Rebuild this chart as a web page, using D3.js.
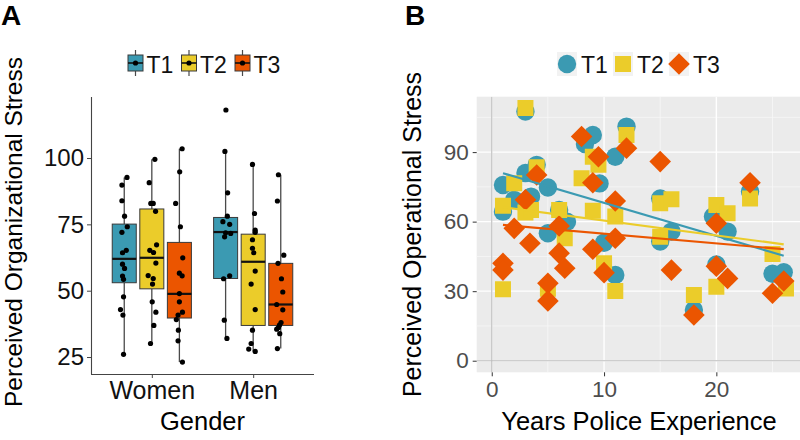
<!DOCTYPE html>
<html><head><meta charset="utf-8">
<script src="https://cdn.jsdelivr.net/npm/d3@7"></script>
<style>body{margin:0;background:#fff}svg{display:block}text{font-family:"Liberation Sans",Arial,sans-serif}</style>
</head><body>
<svg id="c" width="800" height="440"></svg>
<script>
// ---------- DATA ----------
const genders = ["Women", "Men"];
const times = ["T1", "T2", "T3"];
const timeColors = ["#3B9AB2", "#EBCC2A", "#EB5500"];

// Panel A box stats: [lower whisker, Q1, median, Q3, upper whisker]
const boxWomenT1 = [26.0, 53.0, 62.0, 75.1, 92.7];
const boxWomenT2 = [30.1, 50.7, 62.4, 80.8, 99.5];
const boxWomenT3 = [23.1, 39.7, 48.8, 68.2, 103.5];
const boxMenT1 = [32.0, 54.6, 72.1, 77.6, 102.5];
const boxMenT2 = [27.1, 36.9, 60.9, 71.3, 97.6];
const boxMenT3 = [28.2, 36.9, 44.8, 60.3, 93.7];

// Panel A individual scores and their jitter (category units)
const ptsWomenT1 = [92.7, 89.8, 83.9, 78.1, 74.1, 72.0, 65.2, 64.3, 60.0, 58.4, 55.5, 54.3, 47.7, 42.9, 40.8, 26.0];
const jitWomenT1 = [0.027, -0.023, -0.023, 0.003, 0.030, -0.023, 0.020, -0.017, -0.017, 0.003, -0.017, -0.007, -0.007, -0.037, -0.013, -0.007];
const ptsWomenT2 = [99.5, 90.7, 82.9, 82.9, 79.9, 67.3, 65.2, 64.4, 60.4, 55.7, 54.6, 52.5, 45.8, 41.9, 36.9, 30.1];
const jitWomenT2 = [0.030, -0.026, -0.010, 0.014, 0.037, 0.047, -0.020, 0.017, 0.040, -0.036, 0.014, 0.007, 0.004, 0.040, 0.020, -0.013];
const ptsWomenT3 = [103.5, 94.8, 82.9, 74.1, 62.4, 56.6, 55.6, 48.9, 45.8, 41.9, 40.8, 39.1, 35.1, 31.1, 23.1];
const jitWomenT3 = [0.027, 0.003, -0.037, 0.010, 0.033, 0.000, 0.027, 0.000, 0.000, 0.030, -0.013, -0.030, -0.010, -0.013, 0.030];
const ptsMenT1 = [118.1, 102.5, 86.9, 78.1, 76.0, 75.0, 71.8, 71.6, 70.3, 55.6, 54.5, 38.9, 32.0];
const jitMenT1 = [0.003, -0.007, 0.020, 0.017, -0.027, 0.040, 0.000, 0.050, -0.010, 0.040, -0.020, -0.013, 0.013];
const ptsMenT2 = [97.6, 79.1, 72.8, 72.0, 69.2, 66.0, 64.3, 57.4, 52.5, 42.9, 35.1, 30.1, 28.0, 27.1];
const jitMenT2 = [-0.007, 0.013, 0.020, 0.020, -0.007, -0.007, 0.006, 0.020, -0.020, 0.020, -0.007, -0.020, -0.044, 0.020];
const ptsMenT3 = [93.7, 83.8, 63.4, 60.3, 54.5, 49.5, 44.8, 42.8, 38.0, 37.0, 36.1, 35.5, 33.8, 28.2];
const jitMenT3 = [-0.023, -0.033, 0.030, -0.027, 0.007, 0.020, -0.040, 0.020, 0.003, -0.013, -0.023, -0.040, -0.010, -0.033];

const yTicksA = [25, 50, 75, 100];

// Panel B: years of experience vs operational stress
const yearsT1 = [3, 12, 9, 8.3, 11, 4, 3, 1, 5, 9.6, 23, 2, 3.5, 1, 15, 19.7, 21, 6.7, 6, 5, 10, 15, 16, 11, 20, 25, 26, 18];
const stressT1 = [107.5, 101, 97.4, 93.5, 88, 84.5, 81, 75.8, 74.7, 76.5, 73, 69.4, 70.8, 64.3, 70, 62.2, 55.7, 60, 65, 55, 50.9, 51.4, 55.7, 37, 41.5, 37.5, 38.2, 21.9];
const yearsT2 = [3, 12, 9, 9.5, 4, 2, 8, 23, 1, 3, 3.5, 15, 16, 20, 21, 6, 9, 11, 6.5, 15, 10, 25, 1, 5, 11, 18, 20, 26.2];
const stressT2 = [109, 97.4, 88, 84.5, 83.5, 76.6, 78.7, 70, 66.8, 63.9, 65, 67.9, 69.7, 67.2, 63.6, 65, 64.7, 62.2, 52.8, 53.5, 42, 46, 30.8, 31, 30.1, 28.4, 31.9, 31.2];
const yearsT3 = [12, 8, 9.5, 15, 4, 9, 23, 3, 11, 20, 6, 2, 11, 3.4, 6, 9, 1, 1, 6.5, 10, 16, 20, 21, 26, 25, 5, 5, 18];
const stressT3 = [91.7, 96.7, 88, 85.9, 80.1, 76.8, 76.8, 69.4, 68.9, 59.3, 58.1, 57.1, 52.8, 50.7, 46.4, 48.1, 42, 39.1, 39.9, 38, 39.1, 40.8, 35.5, 34.4, 29.1, 33.4, 25.8, 19.7];

// Linear fits: [[x0, y0], [x1, y1]]
const fitT1 = [[1, 80.9], [26, 45.3]];
const fitT2 = [[1, 66.2], [26, 50.2]];
const fitT3 = [[1, 58.6], [26, 48.1]];

const xTicksB = [0, 10, 20];
const yTicksB = [0, 30, 60, 90];
const xMinorB = [5, 15, 25];
const yMinorB = [15, 45, 75, 105];

// ---------- DRAW ----------
const svg = d3.select("#c");
const font = '"Liberation Sans", Arial, sans-serif';

// ===== Panel A =====
const boxes = {
  Women: [boxWomenT1, boxWomenT2, boxWomenT3],
  Men: [boxMenT1, boxMenT2, boxMenT3]
};
const pts = {
  Women: [[ptsWomenT1, jitWomenT1], [ptsWomenT2, jitWomenT2], [ptsWomenT3, jitWomenT3]],
  Men: [[ptsMenT1, jitMenT1], [ptsMenT2, jitMenT2], [ptsMenT3, jitMenT3]]
};

const xA = d3.scalePoint().domain(genders).range([91, 314]).padding(0.6);
const yA = d3.scaleLinear().domain([18.6, 123]).range([374, 97]);
const step = xA.step();
const dodge = 0.272 * step;
const bw = 0.237 * step;

const gA = svg.append("g");

genders.forEach(g => {
  times.forEach((t, i) => {
    const s = boxes[g][i];
    const cx = xA(g) + (i - 1) * dodge;
    gA.append("line").attr("x1", cx).attr("x2", cx)
      .attr("y1", yA(s[4])).attr("y2", yA(s[3]))
      .attr("stroke", "#4a4a4a").attr("stroke-width", 1.3);
    gA.append("line").attr("x1", cx).attr("x2", cx)
      .attr("y1", yA(s[1])).attr("y2", yA(s[0]))
      .attr("stroke", "#4a4a4a").attr("stroke-width", 1.3);
    gA.append("rect").attr("x", cx - bw / 2).attr("width", bw)
      .attr("y", yA(s[3])).attr("height", yA(s[1]) - yA(s[3]))
      .attr("fill", timeColors[i]).attr("stroke", "#3a3a3a").attr("stroke-width", 1);
    gA.append("line").attr("x1", cx - bw / 2).attr("x2", cx + bw / 2)
      .attr("y1", yA(s[2])).attr("y2", yA(s[2]))
      .attr("stroke", "#111").attr("stroke-width", 2.2);
  });
});
genders.forEach(g => {
  times.forEach((t, i) => {
    const [vals, jit] = pts[g][i];
    const cx = xA(g) + (i - 1) * dodge;
    gA.selectAll(null).data(vals).enter().append("circle")
      .attr("cx", (d, k) => cx + jit[k] * step)
      .attr("cy", d => yA(d))
      .attr("r", 2.6).attr("fill", "#000");
  });
});

const axYA = gA.append("g").attr("transform", "translate(91,0)")
  .call(d3.axisLeft(yA).tickValues(yTicksA).tickSize(4).tickSizeOuter(0).tickPadding(3));
const axXA = gA.append("g").attr("transform", "translate(0,374)")
  .call(d3.axisBottom(xA).tickSize(4).tickSizeOuter(0).tickPadding(3));
[axYA, axXA].forEach(a => {
  a.select(".domain").attr("stroke", "#444").attr("stroke-width", 1.1);
  a.selectAll(".tick line").attr("stroke", "#444");
  a.selectAll("text").attr("fill", "#111").style("font-family", font);
});
axYA.selectAll("text").style("font-size", "24px");
axXA.selectAll("text").style("font-size", "25px");
axXA.select(".domain").attr("d", "M91,0.5H314");
axYA.select(".domain").attr("d", "M0.5,97V374.5");

svg.append("text").attr("x", 202.5).attr("y", 430).attr("text-anchor", "middle")
  .style("font-size", "25.5px").attr("fill", "#000").text("Gender");
svg.append("text").attr("transform", "translate(21.5,232) rotate(-90)").attr("text-anchor", "middle")
  .style("font-size", "24.5px").attr("fill", "#000").text("Perceived Organizational Stress");
svg.append("text").attr("x", 1).attr("y", 25).style("font-size", "28px").style("font-weight", "bold").text("A");

// legend A
const legA = [128, 181.5, 235];
times.forEach((t, i) => {
  const x0 = legA[i];
  const g = svg.append("g");
  g.append("line").attr("x1", x0 + 7.5).attr("x2", x0 + 7.5).attr("y1", 50).attr("y2", 76)
    .attr("stroke", "#4a4a4a").attr("stroke-width", 1.2);
  g.append("rect").attr("x", x0).attr("y", 55).attr("width", 15).attr("height", 16)
    .attr("fill", timeColors[i]).attr("stroke", "#3a3a3a");
  g.append("line").attr("x1", x0).attr("x2", x0 + 15).attr("y1", 63).attr("y2", 63)
    .attr("stroke", "#111").attr("stroke-width", 1.6);
  g.append("circle").attr("cx", x0 + 7.5).attr("cy", 63).attr("r", 2.6).attr("fill", "#000");
  g.append("text").attr("x", x0 + 18.5).attr("y", 72.5).style("font-size", "23px").attr("fill", "#111").text(t);
});

// ===== Panel B =====
const L = 476.7, R = 801.7, T = 96.7, B = 372.3;
const xB = d3.scaleLinear().domain([-1.34, 27.6]).range([L, R]);
const yB = d3.scaleLinear().domain([-5.0, 113.9]).range([B, T]);

const defs = svg.append("defs");
defs.append("clipPath").attr("id", "clipB").append("rect")
  .attr("x", L).attr("y", T).attr("width", R - L).attr("height", B - T);

const gB = svg.append("g");
gB.append("rect").attr("x", L).attr("y", T).attr("width", R - L).attr("height", B - T).attr("fill", "#EBEBEB");

const grid = gB.append("g").attr("clip-path", "url(#clipB)");
xMinorB.forEach(v => grid.append("line").attr("x1", xB(v)).attr("x2", xB(v)).attr("y1", T).attr("y2", B)
  .attr("stroke", "#F7F7F7").attr("stroke-width", 0.8));
yMinorB.forEach(v => grid.append("line").attr("y1", yB(v)).attr("y2", yB(v)).attr("x1", L).attr("x2", R)
  .attr("stroke", "#F7F7F7").attr("stroke-width", 0.8));
xTicksB.forEach(v => grid.append("line").attr("x1", xB(v)).attr("x2", xB(v)).attr("y1", T).attr("y2", B)
  .attr("stroke", "#FFFFFF").attr("stroke-width", 1.4));
yTicksB.forEach(v => grid.append("line").attr("y1", yB(v)).attr("y2", yB(v)).attr("x1", L).attr("x2", R)
  .attr("stroke", "#FFFFFF").attr("stroke-width", 1.4));
grid.append("line").attr("x1", xB(0)).attr("x2", xB(0)).attr("y1", T).attr("y2", B)
  .attr("stroke", "#BDBDBD").attr("stroke-width", 1.1);
grid.append("line").attr("y1", yB(0)).attr("y2", yB(0)).attr("x1", L).attr("x2", R)
  .attr("stroke", "#BDBDBD").attr("stroke-width", 1.1);

const marks = gB.append("g").attr("clip-path", "url(#clipB)");
const series = [
  { xs: yearsT1, ys: stressT1, shape: "circle" },
  { xs: yearsT2, ys: stressT2, shape: "square" },
  { xs: yearsT3, ys: stressT3, shape: "diamond" }
];
function shapePath(shape) {
  if (shape === "circle") { const r = 9.2; return `M${r},0A${r},${r} 0 1,1 ${-r},0A${r},${r} 0 1,1 ${r},0Z`; }
  if (shape === "square") { const h = 8; return `M${-h},${-h}H${h}V${h}H${-h}Z`; }
  const r = 10.8; return `M0,${-r}L${r},0L0,${r}L${-r},0Z`;
}
series.forEach((s, i) => {
  marks.selectAll(null).data(s.xs).enter().append("path")
    .attr("d", shapePath(s.shape))
    .attr("transform", (d, k) => `translate(${xB(d)},${yB(s.ys[k])})`)
    .attr("fill", timeColors[i]);
});
[fitT1, fitT2, fitT3].forEach((f, i) => {
  marks.append("path").attr("d", d3.line().x(d => xB(d[0])).y(d => yB(d[1]))(f))
    .attr("stroke", timeColors[i]).attr("stroke-width", 2.2).attr("fill", "none");
});

const axYB = gB.append("g").attr("transform", `translate(${L},0)`)
  .call(d3.axisLeft(yB).tickValues(yTicksB).tickSize(4).tickPadding(4));
const axXB = gB.append("g").attr("transform", `translate(0,${B})`)
  .call(d3.axisBottom(xB).tickValues(xTicksB).tickSize(4).tickPadding(5));
[axYB, axXB].forEach(a => {
  a.select(".domain").remove();
  a.selectAll(".tick line").attr("stroke", "#333");
  a.selectAll("text").attr("fill", "#4D4D4D").style("font-family", font).style("font-size", "22.5px");
});

svg.append("text").attr("x", 639).attr("y", 430).attr("text-anchor", "middle")
  .style("font-size", "25.5px").attr("fill", "#000").text("Years Police Experience");
svg.append("text").attr("transform", "translate(421,234.5) rotate(-90)").attr("text-anchor", "middle")
  .style("font-size", "25px").attr("fill", "#000").text("Perceived Operational Stress");
svg.append("text").attr("x", 405).attr("y", 25).style("font-size", "28px").style("font-weight", "bold").text("B");

// legend B
const legB = [557, 613, 669];
times.forEach((t, i) => {
  const x0 = legB[i];
  const g = svg.append("g");
  g.append("rect").attr("x", x0).attr("y", 52).attr("width", 20).attr("height", 24).attr("fill", "#F2F2F2");
  g.append("path").attr("d", shapePath(series[i].shape)).attr("transform", `translate(${x0 + 10},64)`)
    .attr("fill", timeColors[i]);
  g.append("text").attr("x", x0 + 24).attr("y", 72.5).style("font-size", "23px").attr("fill", "#111").text(t);
});
</script>
</body></html>
